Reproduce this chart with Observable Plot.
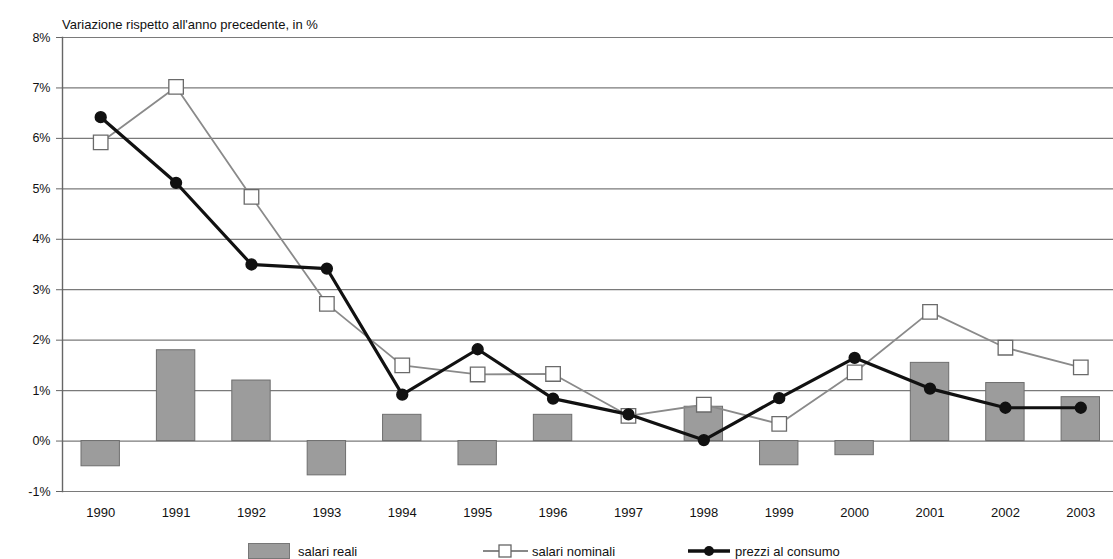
<!DOCTYPE html>
<html><head><meta charset="utf-8">
<script src="https://cdn.jsdelivr.net/npm/d3@7"></script>
<script src="https://cdn.jsdelivr.net/npm/@observablehq/plot@0.6"></script>
<style>
body{margin:0;background:#fff;font-family:"Liberation Sans",Arial,Helvetica,sans-serif;}
#wrap{position:relative;width:1113px;height:559px;overflow:hidden;background:#fff}
#chart svg{overflow:visible}
#sub{position:absolute;left:62px;top:17px;font-size:13px;color:#111;white-space:nowrap}
.leg{position:absolute;top:543px;height:16px;display:flex;align-items:center;font-size:13px;color:#111;white-space:nowrap}
</style>
</head><body>
<div id="wrap">
  <div id="chart"></div>
  <div id="sub">Variazione rispetto all'anno precedente, in %</div>
  <div class="leg" style="left:248px"><svg width="42" height="16" style="margin-right:8px"><rect x="0.5" y="0.5" width="41" height="15" fill="#9c9c9c" stroke="#777"/></svg>salari reali</div>
  <div class="leg" style="left:483px"><svg width="45" height="16" style="margin-right:4px"><line x1="0" x2="45" y1="8" y2="8" stroke="#888" stroke-width="1.8"/><rect x="16" y="2" width="12" height="12" fill="#fff" stroke="#666" stroke-width="1.3"/></svg>salari nominali</div>
  <div class="leg" style="left:688px"><svg width="42" height="16" style="margin-right:5px"><line x1="0" x2="42" y1="8" y2="8" stroke="#111" stroke-width="3.5"/><circle cx="21" cy="8" r="5" fill="#111"/></svg>prezzi al consumo</div>
</div>
<script>
const years = ["1990","1991","1992","1993","1994","1995","1996","1997","1998","1999","2000","2001","2002","2003"];
const salariReali = [-0.5, 1.8, 1.2, -0.68, 0.52, -0.48, 0.52, 0.0, 0.68, -0.48, -0.28, 1.55, 1.15, 0.87];
const salariNominali = [5.92, 7.02, 4.84, 2.72, 1.5, 1.32, 1.33, 0.5, 0.72, 0.34, 1.36, 2.56, 1.85, 1.46];
const prezziConsumo = [6.42, 5.12, 3.5, 3.42, 0.92, 1.82, 0.84, 0.53, 0.02, 0.85, 1.65, 1.04, 0.66, 0.66];
const yTicks = [-1, 0, 1, 2, 3, 4, 5, 6, 7, 8];

const data = years.map((y, i) => ({year: y, reali: salariReali[i], nominali: salariNominali[i], prezzi: prezziConsumo[i]}));

const plot = Plot.plot({
  width: 1113,
  height: 530,
  marginTop: 37,
  marginBottom: 39,
  marginLeft: 62,
  marginRight: 0,
  style: {fontFamily: '"Liberation Sans", Arial, sans-serif', fontSize: "12px", color: "#111", background: "transparent"},
  x: {domain: years, range: [62.5, 1118], padding: 0, round: false, label: null},
  y: {domain: [-1, 8], label: null},
  marks: [
    Plot.ruleY(yTicks, {stroke: "#7a7a7a", strokeWidth: 1.2}),
    Plot.barY(data, {x: "year", y: "reali", fill: "#9c9c9c", stroke: "#6e6e6e", strokeWidth: 1, insetLeft: 18.5, insetRight: 18.5}),
    Plot.line(data, {x: "year", y: "nominali", stroke: "#8a8a8a", strokeWidth: 1.8}),
    Plot.dot(data, {x: "year", y: "nominali", symbol: "square", r: 8.2, fill: "white", stroke: "#6a6a6a", strokeWidth: 1.3}),
    Plot.line(data, {x: "year", y: "prezzi", stroke: "#111", strokeWidth: 3.2}),
    Plot.dot(data, {x: "year", y: "prezzi", r: 5.4, fill: "#111", stroke: "#111"}),
    Plot.axisY({ticks: yTicks, tickFormat: d => d + "%", tickSize: 6, tickPadding: 6, stroke: "#666", fill: "#111", fontSize: 12.5}),
    Plot.axisX({tickSize: 0, tickPadding: 16, fill: "#111", fontSize: 13}),
    Plot.frame({anchor: "left", stroke: "#666", strokeWidth: 1.4})
  ]
});
document.getElementById("chart").appendChild(plot);
</script>
</body></html>
